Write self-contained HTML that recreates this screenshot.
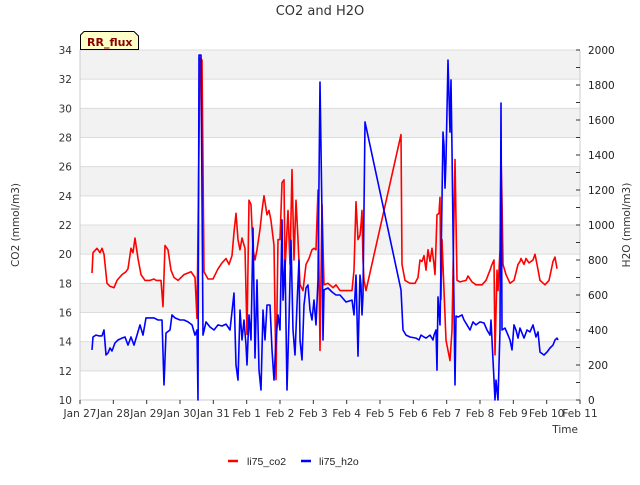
<!DOCTYPE html>
<html><head><meta charset="utf-8"><style>
body{margin:0;background:#fff;font-family:"Liberation Sans","DejaVu Sans",sans-serif;}
svg text{font-family:"DejaVu Sans","Liberation Sans",sans-serif;}
</style></head><body>
<svg id="chart" width="640" height="480" viewBox="0 0 640 480" xmlns="http://www.w3.org/2000/svg">
<text x="320" y="15" text-anchor="middle" font-size="13" fill="#333">CO2 and H2O</text>
<g id="bands"></g><g id="grid"></g><g id="axes"></g><g id="series"></g>
<g>
<path d="M80.5,49.5 L80.5,35 L84,31.5 L134,31.5 L138.5,36 L138.5,49.5 Z" fill="#ffffc8" stroke="#000" stroke-width="1"/>
<text x="87" y="46" font-size="11" font-weight="bold" fill="#8b0000">RR_flux</text>
</g>
<text transform="translate(19,225) rotate(-90)" text-anchor="middle" font-size="10.5" fill="#333">CO2 (mmol/m3)</text>
<text transform="translate(630,225) rotate(-90)" text-anchor="middle" font-size="10.5" fill="#333">H2O (mmol/m3)</text>
<text x="578" y="433" text-anchor="end" font-size="10.5" fill="#333">Time</text>
<g>
<line x1="228" y1="461" x2="238" y2="461" stroke="#f00" stroke-width="2.5"/>
<text x="247" y="465" font-size="10.5" fill="#222" style="font-family:'Liberation Sans',sans-serif">li75_co2</text>
<line x1="301" y1="461" x2="311" y2="461" stroke="#00f" stroke-width="2.5"/>
<text x="319" y="465" font-size="10.5" fill="#222" style="font-family:'Liberation Sans',sans-serif">li75_h2o</text>
</g>
</svg>
<script>
const xTickLabels=["Jan 27","Jan 28","Jan 29","Jan 30","Jan 31","Feb 1","Feb 2","Feb 3","Feb 4","Feb 5","Feb 6","Feb 7","Feb 8","Feb 9","Feb 10","Feb 11"];
const leftTicks=[10,12,14,16,18,20,22,24,26,28,30,32,34];
const rightTicks=[0,200,400,600,800,1000,1200,1400,1600,1800,2000];
const co2Days=[0.36,0.39,0.51,0.60,0.66,0.72,0.81,0.90,1.02,1.11,1.26,1.38,1.44,1.53,1.59,1.65,1.74,1.83,1.95,2.10,2.22,2.28,2.43,2.49,2.55,2.64,2.73,2.82,2.94,3.12,3.33,3.45,3.51,3.60,3.66,3.72,3.84,3.99,4.14,4.26,4.38,4.47,4.56,4.62,4.68,4.74,4.80,4.86,4.95,5.01,5.07,5.13,5.19,5.25,5.31,5.40,5.46,5.52,5.61,5.67,5.73,5.82,5.88,5.94,6.00,6.06,6.12,6.15,6.24,6.30,6.36,6.42,6.48,6.54,6.60,6.69,6.78,6.87,6.96,7.02,7.08,7.14,7.20,7.26,7.32,7.44,7.59,7.68,7.80,7.98,8.16,8.22,8.28,8.34,8.40,8.43,8.46,8.49,8.52,8.58,9.63,9.66,9.75,9.90,10.05,10.14,10.20,10.26,10.32,10.38,10.44,10.50,10.56,10.62,10.65,10.68,10.71,10.77,10.80,10.83,10.86,10.92,10.98,11.10,11.16,11.25,11.31,11.40,11.58,11.64,11.76,11.88,12.06,12.18,12.30,12.36,12.42,12.45,12.51,12.54,12.60,12.63,12.66,12.69,12.78,12.90,13.02,13.14,13.20,13.23,13.32,13.38,13.47,13.59,13.65,13.71,13.80,13.95,14.07,14.19,14.25,14.31];
const co2Vals=[18.7,20.1,20.4,20.1,20.4,20.0,18.0,17.8,17.7,18.2,18.6,18.8,19.0,20.4,20.1,21.1,19.7,18.6,18.2,18.2,18.3,18.2,18.2,16.4,20.6,20.3,18.9,18.4,18.2,18.6,18.8,18.4,15.6,33.5,33.3,18.8,18.3,18.3,19.0,19.4,19.7,19.3,19.9,21.5,22.8,21.0,20.3,21.1,20.4,14.5,23.7,23.4,20.3,19.6,20.3,21.7,23.0,24.0,22.7,23.0,22.3,20.6,11.4,21.0,21.0,24.9,25.1,18.9,23.0,19.3,25.8,19.6,23.7,21.0,17.9,17.5,19.3,19.7,20.3,20.4,20.3,24.4,13.4,23.4,17.9,18.0,17.7,17.9,17.5,17.5,17.5,18.9,23.6,21.0,21.3,22.0,23.0,19.6,18.2,17.5,28.2,19.3,18.2,18.0,18.0,18.4,19.6,19.5,19.9,18.9,20.3,19.5,20.4,19.3,18.6,20.6,22.7,22.8,23.9,16.9,21.0,17.5,14.1,12.7,14.8,26.5,18.2,18.1,18.2,18.5,18.1,17.9,17.9,18.2,18.9,19.3,19.6,13.1,18.9,17.5,20.3,26.8,23.7,19.3,18.6,18.0,18.2,19.3,19.5,19.7,19.3,19.7,19.4,19.6,20.0,19.3,18.2,17.9,18.2,19.5,19.8,19.0];
const h2oDays=[0.36,0.39,0.48,0.57,0.66,0.72,0.78,0.84,0.90,0.96,1.05,1.14,1.26,1.35,1.44,1.53,1.62,1.71,1.80,1.89,1.98,2.10,2.22,2.34,2.46,2.52,2.58,2.70,2.76,2.85,3.00,3.12,3.24,3.36,3.45,3.51,3.54,3.57,3.63,3.69,3.78,3.90,4.02,4.14,4.26,4.38,4.50,4.62,4.68,4.74,4.80,4.86,4.92,4.98,5.01,5.07,5.13,5.19,5.25,5.31,5.37,5.43,5.49,5.55,5.61,5.70,5.76,5.82,5.88,5.94,6.00,6.06,6.09,6.15,6.21,6.27,6.33,6.39,6.45,6.51,6.57,6.60,6.66,6.72,6.78,6.84,6.90,6.96,7.02,7.08,7.14,7.20,7.26,7.29,7.32,7.44,7.56,7.68,7.80,7.98,8.16,8.22,8.28,8.34,8.40,8.43,8.46,8.49,8.55,9.63,9.69,9.78,9.90,10.08,10.17,10.23,10.32,10.38,10.50,10.59,10.62,10.68,10.71,10.74,10.80,10.83,10.89,10.92,10.95,10.98,11.04,11.10,11.13,11.16,11.19,11.25,11.28,11.34,11.46,11.52,11.61,11.70,11.79,11.88,12.00,12.12,12.21,12.30,12.33,12.39,12.45,12.48,12.54,12.60,12.63,12.66,12.75,12.84,12.90,12.96,13.02,13.08,13.14,13.20,13.32,13.41,13.50,13.59,13.68,13.74,13.80,13.92,14.01,14.10,14.19,14.25,14.31,14.34];
const h2oVals=[286,360,371,366,366,400,257,269,297,280,326,343,354,360,314,360,314,371,429,371,469,469,469,457,457,86,383,400,486,469,457,457,446,429,371,400,0,1971,1971,371,446,417,400,429,423,434,400,611,200,114,514,343,457,314,200,486,343,983,240,686,171,57,514,343,543,543,286,114,343,486,400,1029,571,800,57,457,914,400,257,543,800,343,229,543,640,657,514,457,571,429,686,1817,1057,343,629,640,617,600,600,560,571,486,714,251,714,657,486,600,1589,629,400,371,360,354,343,371,360,354,371,343,371,400,171,589,429,771,1531,1457,1211,1371,1943,1531,1829,1429,971,86,480,474,486,457,429,400,446,429,446,440,400,371,457,229,0,114,0,400,1697,400,411,371,343,286,429,400,354,411,354,400,389,429,360,389,274,257,274,297,314,343,354,343];

const NS="http://www.w3.org/2000/svg";
const L=80,R=580,T=50,B=400;
const xS=d=>L+(R-L)*d/15;
const yL=v=>B-(B-T)*(v-10)/24;
const yR=v=>B-(B-T)*v/2000;
function mk(tag,attrs,parent,text){const e=document.createElementNS(NS,tag);for(const k in attrs)e.setAttribute(k,attrs[k]);if(text!==undefined)e.textContent=text;parent.appendChild(e);return e;}
const bands=document.getElementById('bands'),grid=document.getElementById('grid'),axes=document.getElementById('axes'),series=document.getElementById('series');
for(let v=12;v<=32;v+=4){const r=mk('rect',{x:L,y:yL(v+2),width:R-L,height:yL(v)-yL(v+2),fill:'#f2f2f2'},bands);

}
leftTicks.forEach(v=>{const g=mk('line',{x1:L,x2:R,y1:yL(v),y2:yL(v),stroke:'#dcdcdc','stroke-width':1},grid);


const t=mk('text',{x:L-8,y:yL(v)+4,'text-anchor':'end','font-size':10.5,fill:'#333'},axes,String(v));

});
mk('line',{x1:L,x2:L,y1:T,y2:B,stroke:'#ccc'},axes);
mk('line',{x1:R,x2:R,y1:T,y2:B,stroke:'#ccc'},axes);
mk('line',{x1:L,x2:R,y1:B,y2:B,stroke:'#ccc'},axes);
rightTicks.forEach(v=>{mk('line',{x1:R-4,x2:R,y1:yR(v),y2:yR(v),stroke:'#333'},axes);
const t=mk('text',{x:R+8,y:yR(v)+4,'font-size':10.5,fill:'#222'},axes,String(v));


if(v<2000)mk('line',{x1:R-4,x2:R,y1:yR(v+100),y2:yR(v+100),stroke:'#333'},axes);});
xTickLabels.forEach((s,i)=>{mk('line',{x1:xS(i),x2:xS(i),y1:B,y2:B+4,stroke:'#333'},axes);
const t=mk('text',{x:xS(i),y:B+17,'text-anchor':'middle','font-size':10.5,fill:'#333'},axes,s);

});
function line(days,vals,ys,color,name){const p=days.map((d,i)=>xS(d).toFixed(1)+','+ys(vals[i]).toFixed(1)).join(' ');
const e=mk('polyline',{points:p,fill:'none',stroke:color,'stroke-width':1.6,'stroke-linejoin':'round'},series);

}
line(co2Days,co2Vals,yL,'#f00','co2-line');
line(h2oDays,h2oVals,yR,'#00f','h2o-line');
</script>
</body></html>
